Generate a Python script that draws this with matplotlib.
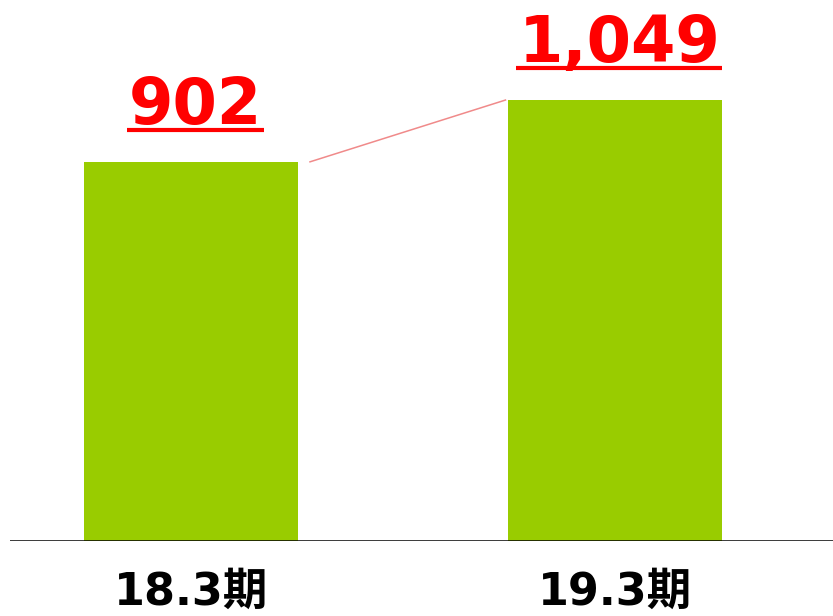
import matplotlib.pyplot as plt

plt.rcParams['font.family'] = ['DejaVu Sans', 'Noto Sans CJK JP']

# データ
periods = ['18.3期', '19.3期']
values = [902, 1049]
value_labels = ['902', '1,049']

bar_color = '#99cc00'
red = '#ff0000'

fig = plt.figure(figsize=(8.33, 6.16), dpi=100)
ax = fig.add_axes([10 / 833, 75 / 616, 823 / 833, 541 / 616])

x = list(range(len(values)))
bar_w = 0.505
ax.bar(x, values, width=bar_w, color=bar_color, zorder=2)

ax.set_xlim(-0.427, 1.514)
ax.set_ylim(0, 1287)

# 前期から今期への補助線
ax.plot([x[0] + bar_w / 2 + 0.028, x[1] - bar_w / 2 - 0.006], [values[0], values[1]],
        color='#f08a8a', lw=1.1, zorder=1)

fig.canvas.draw()
renderer = fig.canvas.get_renderer()
inv = ax.transData.inverted()
for i, (v, lab) in enumerate(zip(values, value_labels)):
    t = ax.annotate(lab, xy=(i, v), xytext=(3, 27.5), textcoords='offset points',
                    ha='center', va='baseline', fontsize=46, fontweight='bold', color=red)
    bb = t.get_window_extent(renderer)
    (x0, _), (x1, _) = inv.transform([(bb.x0 - 2, 0), (bb.x1 + 2, 0)])
    # 下線
    y_ul = ax.transData.transform((i, v))[1] + 32
    yd = inv.transform((0, y_ul))[1]
    ax.plot([x0, x1], [yd, yd], color=red, lw=3, solid_capstyle='butt', clip_on=False)

    ax.annotate(periods[i], xy=(i, 0), xycoords=('data', 'axes fraction'),
                xytext=(0, -46), textcoords='offset points',
                ha='center', va='baseline', fontsize=32, fontweight='bold', color='black',
                annotation_clip=False)

ax.axhline(0, color='black', lw=1.8, zorder=3)
for s in ax.spines.values():
    s.set_visible(False)
ax.set_xticks([])
ax.set_yticks([])

fig.savefig('out.png', dpi=100)
